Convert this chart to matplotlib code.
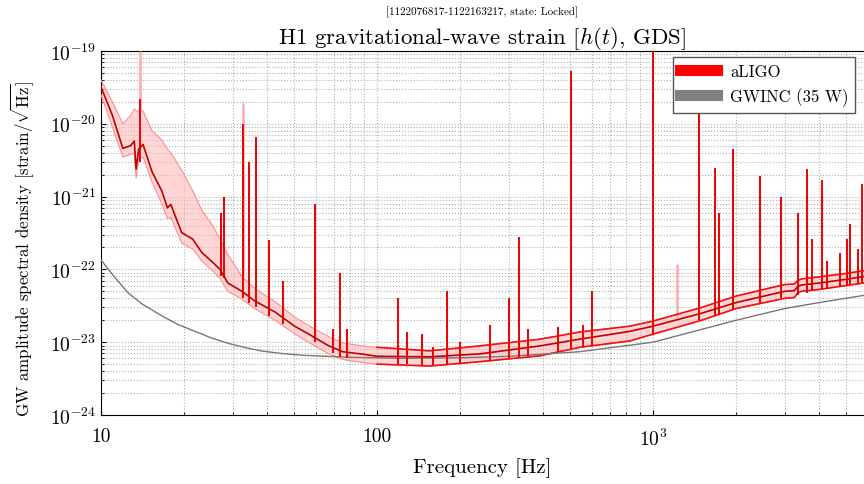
import matplotlib
matplotlib.use('Agg')
import matplotlib.pyplot as plt
from matplotlib.lines import Line2D
import numpy as np

plt.rcParams['font.family'] = ['cmr10', 'DejaVu Serif']
plt.rcParams['mathtext.fontset'] = 'cm'
plt.rcParams['axes.formatter.use_mathtext'] = True

# broadband aLIGO spectrum: median and percentile band
freq = [10, 11, 12, 12.8, 13.2, 13.4, 13.7, 14.2, 15.3, 16.6, 17.4, 17.9, 19.6, 21.5,
        23.2, 25.4, 27, 28.8, 32.4, 36, 42.7, 50.4, 56.4, 66.5, 75, 90, 100, 155, 236,
        390, 543, 825, 1000, 1500, 2000, 3000, 3250, 3340, 3450, 4000, 5000, 5814]
asd_med = [3.2e-20, 1.3e-20, 4.6e-21, 5.0e-21, 5.8e-21, 2.4e-21, 4.5e-21, 5.2e-21, 2.2e-21,
           1.2e-21, 7.0e-22, 7.8e-22, 3.2e-22, 2.6e-22, 1.7e-22, 1.25e-22, 1.0e-22, 6.5e-23,
           5.0e-23, 3.7e-23, 2.6e-23, 1.65e-23, 1.3e-23, 9.0e-24, 7.4e-24, 6.8e-24, 6.4e-24,
           6.3e-24, 6.9e-24, 8.9e-24, 1.1e-23, 1.41e-23, 1.66e-23, 2.5e-23, 3.5e-23, 5.0e-23,
           5.1e-23, 5.8e-23, 6.1e-23, 6.5e-23, 7.3e-23, 8.0e-23]
asd_hi = [4.0e-20, 2.0e-20, 1.0e-20, 1.3e-20, 1.6e-20, 1.5e-20, 1.5e-20, 1.5e-20, 8.0e-21,
          6.0e-21, 4.5e-21, 4.0e-21, 2.3e-21, 1.2e-21, 6.5e-22, 4.0e-22, 2.6e-22, 1.6e-22,
          8.0e-23, 5.5e-23, 3.6e-23, 2.2e-23, 1.7e-23, 1.2e-23, 9.8e-24, 8.8e-24, 8.5e-24,
          7.6e-24, 8.9e-24, 1.1e-23, 1.38e-23, 1.66e-23, 1.95e-23, 3.0e-23, 4.3e-23, 6.2e-23,
          6.3e-23, 7.0e-23, 7.4e-23, 7.9e-23, 8.8e-23, 9.6e-23]
asd_lo = [2.5e-20, 9.0e-21, 3.5e-21, 3.8e-21, 4.0e-21, 1.8e-21, 3.3e-21, 3.5e-21, 1.6e-21,
          8.0e-22, 5.0e-22, 5.2e-22, 2.3e-22, 1.9e-22, 1.3e-22, 9.5e-23, 7.5e-23, 5.0e-23,
          3.9e-23, 2.9e-23, 2.0e-23, 1.3e-23, 1.0e-23, 7.0e-24, 5.8e-24, 5.2e-24, 5.0e-24,
          4.7e-24, 5.4e-24, 6.5e-24, 8.5e-24, 1.04e-23, 1.29e-23, 2.0e-23, 2.9e-23, 4.0e-23,
          4.1e-23, 4.7e-23, 5.0e-23, 5.3e-23, 6.0e-23, 6.5e-23]

# narrow lines: frequency, peak, base
line_f = [13.9, 27.3, 27.9, 32.7, 34.4, 36.5, 40.6, 45.7, 59.6, 69.2, 73.5, 77.8, 119.3,
          128, 146, 159, 179, 200, 256, 300, 326, 352, 452, 505, 556, 600, 1000, 1466,
          1680, 1740, 1945, 2440, 2900, 3340, 3600, 3780, 4100, 4270, 4760, 5050, 5170,
          5520, 5700]
line_peak = [2.2e-20, 6e-22, 1e-21, 1e-20, 3e-21, 6.6e-21, 2.5e-22, 7e-23, 8e-22, 1.5e-23,
             9e-23, 1.5e-23, 4e-23, 1.4e-23, 1.3e-23, 8.5e-24, 5e-23, 1e-23, 1.7e-23, 4e-23,
             2.8e-22, 1.5e-23, 1.6e-23, 5.3e-20, 1.7e-23, 5e-23, 1.5e-19, 1.5e-20, 2.5e-21,
             6e-22, 4.5e-21, 1.9e-21, 1e-21, 6e-22, 2.4e-21, 2.6e-22, 1.7e-21, 1.3e-22,
             1.7e-22, 2.6e-22, 4.2e-22, 1.9e-22, 1.5e-21]
line_base = [3e-21, 8e-23, 7.5e-23, 4e-23, 3.5e-23, 3e-23, 2.3e-23, 1.8e-23, 1e-23, 7e-24,
             6.2e-24, 6e-24, 5e-24, 5e-24, 4.8e-24, 4.8e-24, 5e-24, 5.1e-24, 5.6e-24, 6e-24,
             6.2e-24, 6.4e-24, 7.4e-24, 8e-24, 8.6e-24, 9e-24, 1.29e-23, 2e-23, 2.3e-23,
             2.4e-23, 2.8e-23, 3.5e-23, 4e-23, 4.5e-23, 4.8e-23, 5e-23, 5.3e-23, 5.4e-23,
             5.8e-23, 6e-23, 6.1e-23, 6.3e-23, 6.4e-23]
# faint lines seen only in the upper percentile
faint_f = [13.9, 32.7, 1222]
faint_peak = [1e-19, 1.9e-20, 1.2e-22]
faint_base = [1.5e-20, 8e-23, 2.2e-23]

# GWINC design curve
gw_f = [10, 11, 12.5, 14, 16.6, 19, 22, 25, 29, 33, 38, 45, 54, 80, 120, 200, 300, 543,
        1000, 2000, 3000, 4000, 5814]
gw_asd = [1.35e-22, 8.5e-23, 4.8e-23, 3.4e-23, 2.3e-23, 1.75e-23, 1.4e-23, 1.15e-23, 9.6e-24,
          8.5e-24, 7.6e-24, 7.0e-24, 6.6e-24, 6.2e-24, 6.0e-24, 6.1e-24, 6.4e-24, 7.4e-24,
          1.0e-23, 2.0e-23, 2.9e-23, 3.5e-23, 4.4e-23]

x_ticks = [10, 100, 1000]
x_ticklabels = ['10', '100', r'$10^3$']
y_ticks = [1e-24, 1e-23, 1e-22, 1e-21, 1e-20, 1e-19]
y_ticklabels = [r'$10^{-24}$', r'$10^{-23}$', r'$10^{-22}$', r'$10^{-21}$',
                r'$10^{-20}$', r'$10^{-19}$']

fig = plt.figure(figsize=(8.64, 4.85), dpi=100)
ax = fig.add_axes([0.1169, 0.1423, 0.8831, 0.7505])

ax.fill_between(freq, asd_lo, asd_hi, color='#ffb3b3', alpha=0.55, lw=0, zorder=2)
ax.plot(freq, asd_hi, color='#ff8c8c', lw=0.8, zorder=3)
ax.plot(freq, asd_lo, color='#ff8c8c', lw=0.8, zorder=3)
hf = np.array(freq) >= 100
ax.plot(np.array(freq)[hf], np.array(asd_hi)[hf], color='#ee1111', lw=1.2, zorder=4)
ax.plot(np.array(freq)[hf], np.array(asd_lo)[hf], color='#ee1111', lw=1.2, zorder=4)
ax.vlines(faint_f, faint_base, faint_peak, color='#ffaaaa', lw=1.8, zorder=3)
ax.vlines(line_f, line_base, line_peak, color='#ee0000', lw=1.4, zorder=5)
ax.plot(freq, asd_med, color='#c00000', lw=1.2, zorder=6)
ax.plot(gw_f, gw_asd, color='#777777', lw=1.0, zorder=4)

ax.set_xscale('log')
ax.set_yscale('log')
ax.set_xlim(10, 5814)
ax.set_ylim(1e-24, 1e-19)
ax.set_xticks(x_ticks)
ax.set_xticklabels(x_ticklabels)
ax.set_yticks(y_ticks)
ax.set_yticklabels(y_ticklabels)
ax.grid(True, which='both', color='#b0b0b0', linestyle=':', linewidth=0.8)
ax.tick_params(which='both', direction='in', labelsize=14)
ax.tick_params(axis='x', pad=9)
ax.spines['right'].set_visible(False)

ax.set_xlabel('Frequency [Hz]', fontsize=15, labelpad=6)
ax.set_ylabel(r'GW amplitude spectral density [strain/$\sqrt{\mathrm{Hz}}$]', fontsize=12.2)
ax.yaxis.set_label_coords(-0.085, 0.46)
ax.set_title('H1 gravitational-wave strain [$h(t)$, GDS]', fontsize=16.5, pad=5)
fig.text(0.558, 0.975, '[1122076817-1122163217, state: Locked]', fontsize=8,
         ha='center', va='center')

handles = [Line2D([], [], color='#ff0000', lw=8),
           Line2D([], [], color='#808080', lw=8)]
leg = ax.legend(handles, ['aLIGO', 'GWINC (35 W)'], loc='upper right', fontsize=12,
                handlelength=2.2, fancybox=False, framealpha=1,
                bbox_to_anchor=(0.993, 0.993), borderaxespad=0.2)
leg.get_frame().set_edgecolor('#555555')

fig.savefig('out.png', dpi=100)
